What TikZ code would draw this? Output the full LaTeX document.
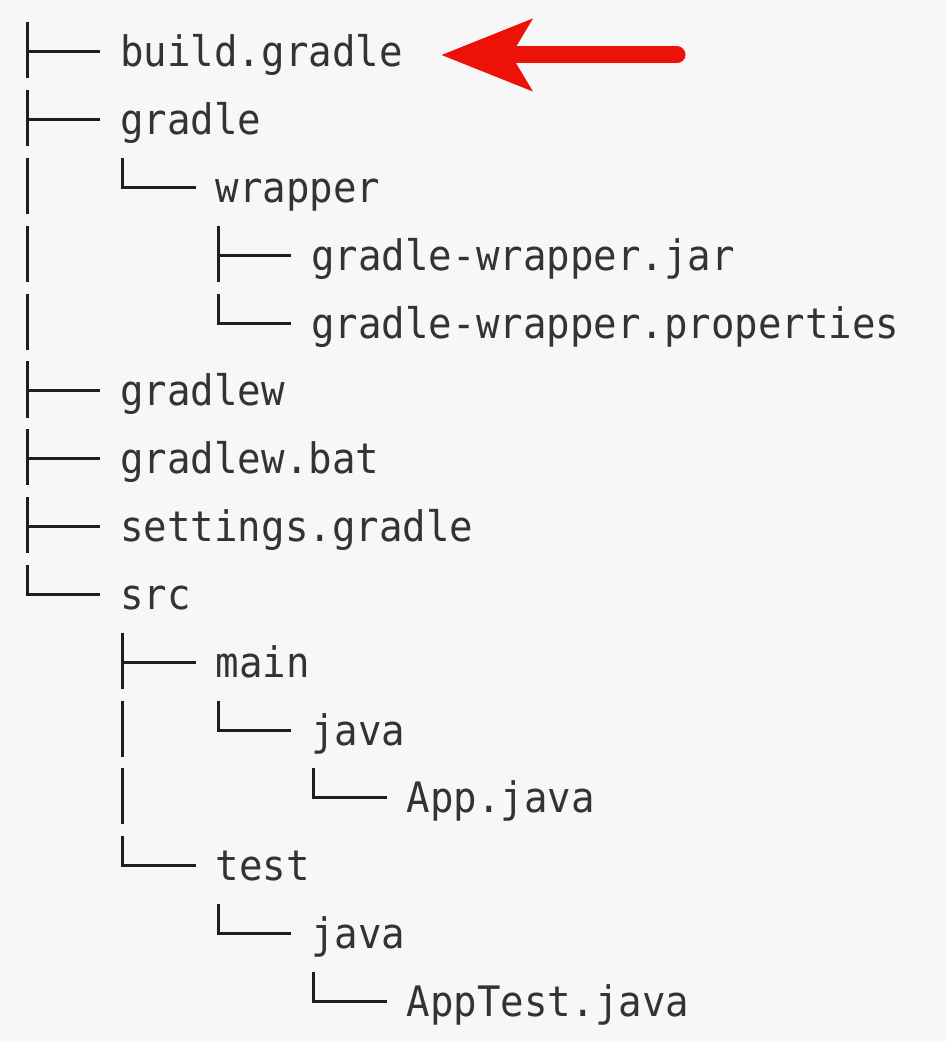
\documentclass[tikz,border=0pt]{standalone}
\usepackage{fontspec}
\usepackage{xcolor}
\usepackage{tikz}
\usetikzlibrary{arrows.meta,calc}
\newfontfamily\treefont[FakeStretch=0.93]{DejaVu Sans Mono}
\definecolor{bg}{RGB}{247,247,247}
\definecolor{txt}{RGB}{51,51,51}
\definecolor{ln}{RGB}{30,30,30}
\definecolor{arrowred}{RGB}{236,18,8}
\tikzset{
  file/.style={anchor=base west,inner sep=0pt,text=txt,font=\treefont\fontsize{21pt}{21pt}\selectfont},
  treeline/.style={draw=ln,line width=1.5pt},
  redarrow/.style={draw=arrowred,line width=8.5pt,line cap=round,-{Stealth[length=45pt,width=35pt,inset=10pt]}}
}
% row centre of a node, in its own column
\newcommand{\treetee}[1]{\draw[treeline] ($(#1.base west)+(-93,-15)$)+(0,-29.5) -- +(0,26.5)
  ($(#1.base west)+(-93,-15)$) -- +(73,0);}
\newcommand{\treeelbow}[1]{\draw[treeline] ($(#1.base west)+(-93,-15)$)+(0,-29.5) |- +(73,0);}
\newcommand{\treebar}[2]{\draw[treeline] ($(#1.base west |- #2.base)+(-93,-15)$)+(0,-29.5) -- +(0,26.5);}

\begin{document}
\begin{tikzpicture}[x=0.5pt,y=-0.5pt]
\fill[bg](0,0)rectangle(946,1042);
\useasboundingbox(0,0)rectangle(946,1042);

\node[file](build) at (120,67) {build.gradle};
\node[file](gradle) at (120,134.8) {gradle};
\node[file](wrapper) at (215.5,202.6) {wrapper};
\node[file](jar) at (311,270.4) {gradle-wrapper.jar};
\node[file](props) at (311,338.2) {gradle-wrapper.properties};
\node[file](gradlew) at (120,406) {gradlew};
\node[file](bat) at (120,473.8) {gradlew.bat};
\node[file](settings) at (120,541.6) {settings.gradle};
\node[file](src) at (120,609.4) {src};
\node[file](main) at (215.5,677.2) {main};
\node[file](mainjava) at (311,745) {java};
\node[file](app) at (406.5,812.8) {App.java};
\node[file](test) at (215.5,880.6) {test};
\node[file](testjava) at (311,948.4) {java};
\node[file](apptest) at (406.5,1016.2) {AppTest.java};

\treetee{build}
\treetee{gradle}
\treebar{gradle}{wrapper}
\treeelbow{wrapper}
\treebar{gradle}{jar}
\treetee{jar}
\treebar{gradle}{props}
\treeelbow{props}
\treetee{gradlew}
\treetee{bat}
\treetee{settings}
\treeelbow{src}
\treetee{main}
\treebar{main}{mainjava}
\treeelbow{mainjava}
\treebar{main}{app}
\treeelbow{app}
\treeelbow{test}
\treeelbow{testjava}
\treeelbow{apptest}

\coordinate(tail) at (677,55);
\draw[redarrow](tail)--($(tail -| build.east)+(38,0)$);
\end{tikzpicture}
\end{document}
